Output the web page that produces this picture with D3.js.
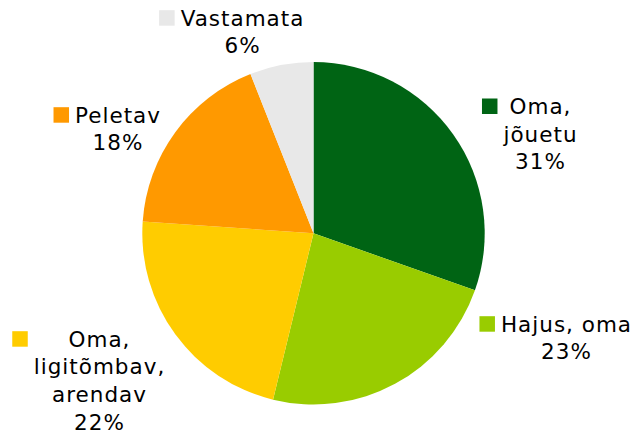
<!DOCTYPE html>
<html><head><meta charset="utf-8">
<script src="https://cdn.jsdelivr.net/npm/d3@7"></script>
<style>html,body{margin:0;padding:0;background:#fff;}svg{display:block;}</style>
</head><body>
<svg id="chart" width="634" height="433"></svg>
<script>
// Data
const categories = ["Oma, jõuetu", "Hajus, oma", "Oma, ligitõmbav, arendav", "Peletav", "Vastamata"];
const labelLines = [["Oma,", "jõuetu"], ["Hajus, oma"], ["Oma,", "ligitõmbav,", "arendav"], ["Peletav"], ["Vastamata"]];
const values = [30.4, 23.4, 22.3, 17.9, 6.0];
const percentLabels = ["31%", "23%", "22%", "18%", "6%"];
const colors = ["#006414", "#99CC00", "#FFCC00", "#FF9900", "#E8E8E8"];

// Layout (label text centre x / first baseline y relative to pie centre)
const labelOffsets = [[226.5, -119.3], [252.5, 98.4], [-214.5, 113.4], [-196, -110.6], [-71.5, -207.6]];
const cx = 313.5, cy = 233.3, R = 171.2;
const fontSize = 21.5, lineH = 27.7, keySize = 15.5, keyGap = 5.5, letterSp = 1.0;

const svg = d3.select("#chart");
const g = svg.append("g").attr("transform", `translate(${cx},${cy})`);

const pie = d3.pie().sort(null).value(d => d)(values);
const arc = d3.arc().innerRadius(0).outerRadius(R);

g.selectAll("path.slice").data(pie).enter().append("path")
  .attr("class", "slice")
  .attr("d", arc)
  .attr("fill", (d, i) => colors[i]);

const labels = g.selectAll("g.lbl").data(pie).enter().append("g").attr("class", "lbl");
labels.each(function(d, i) {
  const sel = d3.select(this);
  const [ox, oy] = labelOffsets[i];
  const lines = labelLines[i].concat([percentLabels[i]]);
  const texts = sel.selectAll("text").data(lines).enter().append("text")
    .attr("x", ox + letterSp / 2)
    .attr("y", (t, j) => oy + j * lineH)
    .attr("text-anchor", "middle")
    .attr("font-family", "DejaVu Sans, Verdana, sans-serif")
    .attr("font-size", fontSize)
    .attr("letter-spacing", letterSp)
    .attr("fill", "#000")
    .text(t => t);
  let maxW = 0;
  texts.each(function() { maxW = Math.max(maxW, this.getComputedTextLength()); });
  sel.insert("rect", "text")
    .attr("x", ox - maxW / 2 - keyGap - keySize)
    .attr("y", oy - keySize)
    .attr("width", keySize)
    .attr("height", keySize)
    .attr("fill", colors[i]);
});
</script>
</body></html>
